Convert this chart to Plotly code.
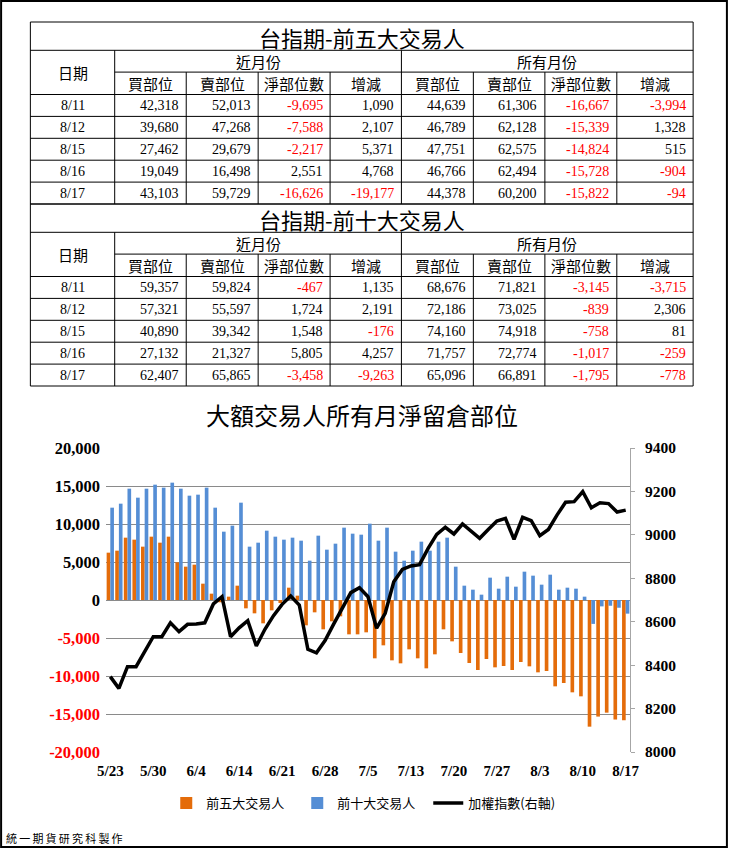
import plotly.graph_objects as go

# ---------------- chart data ----------------
dates = ['5/23','5/24','5/25','5/26','5/27','5/30','5/31','6/1','6/2','6/3','6/4','6/6','6/7','6/8',
         '6/13','6/14','6/15','6/16','6/17','6/20','6/21','6/22','6/23','6/24','6/27','6/28','6/29',
         '6/30','7/1','7/4','7/5','7/6','7/7','7/11','7/12','7/13','7/14','7/15','7/18','7/19','7/20',
         '7/21','7/22','7/25','7/26','7/27','7/28','7/29','8/1','8/2','8/3','8/4','8/5','8/8','8/9',
         '8/10','8/11','8/12','8/15','8/16','8/17']

top5 = [6228, 6491, 8202, 7939, 7018, 8333, 7544, 8333, 4956, 4386,
        4649, 2149, 833, -300, 439, 1886, -1096, -1754, -3070, -1360,
        -400, 1623, 570, -3333, -1623, -3860, -2807, -2149, -4518, -4518,
        -4254, -7675, -5965, -7939, -8333, -6491, -7675, -8991, -7149, -3860,
        -5439, -6974, -8289, -9211, -7763, -8860, -8684, -9211, -8158, -8728,
        -9518, -9342, -11360, -10921, -12149, -12675, -16667, -15339, -14824, -15728,
        -15822]

top10 = [12149, 12675, 14649, 13465, 14649, 15175, 14781, 15439, 14649, 13728,
         13860, 14781, 12149, 8991, 9781, 12807, 7018, 7544, 9123, 8333,
         7939, 8202, 7807, 5175, 8465, 6623, 7412, 9518, 8728, 8596,
         10044, 7807, 9518, 6360, 5175, 6491, 7675, 6491, 7675, 8202,
         4386, 1886, 1360, 702, 2939, 1491, 3070, 1754, 3728, 3202,
         2018, 3333, 1360, 1623, 1491, 439, -3145, -839, -758, -1017,
         -1795]

taiex = [8347, 8293, 8393, 8393, 8462, 8531, 8531, 8595, 8554, 8588,
         8590, 8595, 8682, 8715, 8531, 8572, 8605, 8488, 8565, 8628,
         8680, 8718, 8677, 8473, 8457, 8513, 8589, 8662, 8734, 8757,
         8715, 8570, 8639, 8784, 8841, 8857, 8863, 8938, 9002, 9035,
         9004, 9050, 9019, 8984, 9025, 9064, 9076, 8979, 9081, 9065,
         8996, 9025, 9091, 9150, 9153, 9199, 9125, 9148, 9144, 9105,
         9114]

x_ticks = ['5/23','5/30','6/4','6/14','6/21','6/28','7/5','7/13','7/20','7/27','8/3','8/10','8/17']
left_ticks = [20000, 15000, 10000, 5000, 0, -5000, -10000, -15000, -20000]
right_ticks = [8000, 8200, 8400, 8600, 8800, 9000, 9200, 9400]

series_names = ['前五大交易人', '前十大交易人', '加權指數(右軸)']
chart_title = '大額交易人所有月淨留倉部位'
footer = '統一期貨研究科製作'

# ---------------- table data ----------------
tbl_dates = ['8/11', '8/12', '8/15', '8/16', '8/17']
group_headers = ['近月份', '所有月份']
col_headers = ['買部位', '賣部位', '淨部位數', '增減']

t5_title = '台指期-前五大交易人'
t5_near_buy = [42318, 39680, 27462, 19049, 43103]
t5_near_sell = [52013, 47268, 29679, 16498, 59729]
t5_near_net = [-9695, -7588, -2217, 2551, -16626]
t5_near_chg = [1090, 2107, 5371, 4768, -19177]
t5_all_buy = [44639, 46789, 47751, 46766, 44378]
t5_all_sell = [61306, 62128, 62575, 62494, 60200]
t5_all_net = [-16667, -15339, -14824, -15728, -15822]
t5_all_chg = [-3994, 1328, 515, -904, -94]

t10_title = '台指期-前十大交易人'
t10_near_buy = [59357, 57321, 40890, 27132, 62407]
t10_near_sell = [59824, 55597, 39342, 21327, 65865]
t10_near_net = [-467, 1724, 1548, 5805, -3458]
t10_near_chg = [1135, 2191, -176, 4257, -9263]
t10_all_buy = [68676, 72186, 74160, 71757, 65096]
t10_all_sell = [71821, 73025, 74918, 72774, 66891]
t10_all_net = [-3145, -839, -758, -1017, -1795]
t10_all_chg = [-3715, 2306, 81, -259, -778]

# ---------------- styles / geometry ----------------
ORANGE = '#E46C0A'
BLUE = '#558ED5'
RED = '#FF0000'
CJK = 'Noto Sans CJK TC'
SERIF = 'Liberation Serif'
GRID = '#8a8a8a'

L, R, T, B = 106, 630.5, 448, 752
W, H = R - L, B - T


def px(xp):
    return (xp - L) / W


def py(yp):
    return (B - yp) / H


shapes = []
annots = []


def line(x0, y0, x1, y1, color='black', width=1):
    shapes.append(dict(type='line', xref='paper', yref='paper', x0=px(x0), y0=py(y0),
                       x1=px(x1), y1=py(y1), line=dict(color=color, width=width)))


def text(x, y, s, size, family, color='black', xanchor='center', weight='normal'):
    annots.append(dict(xref='paper', yref='paper', x=px(x), y=py(y), text=s, showarrow=False,
                       font=dict(size=size, family=family, color=color, weight=weight),
                       xanchor=xanchor, yanchor='middle'))


COLS = [30.3, 114.7, 186.3, 258.3, 330.3, 401.7, 473.7, 545.3, 617.3, 693.7]


def fmt(v):
    return f'{v:,}'


def draw_table(y0, title, cols_data):
    y_title = y0 + 28.3
    y_h1 = y_title + 21.8
    y_h2 = y_h1 + 22.4
    rows = [y_h2 + 21.9 * i for i in range(len(tbl_dates) + 1)]
    bottom = rows[-1]
    # horizontal lines
    line(COLS[0], y0, COLS[-1], y0)
    line(COLS[0], y_title, COLS[-1], y_title)
    line(COLS[1], y_h1, COLS[-1], y_h1)
    for r in rows:
        line(COLS[0], r, COLS[-1], r)
    # vertical lines
    line(COLS[0], y0, COLS[0], bottom)
    line(COLS[-1], y0, COLS[-1], bottom)
    line(COLS[1], y_title, COLS[1], bottom)
    line(COLS[5], y_title, COLS[5], bottom)
    for c in (2, 3, 4, 6, 7, 8):
        line(COLS[c], y_h1, COLS[c], bottom)
    # texts
    text((COLS[0] + COLS[-1]) / 2, (y0 + y_title) / 2 + 1, title, 22, CJK)
    text((COLS[0] + COLS[1]) / 2, (y_title + y_h2) / 2, '日期', 15, CJK)
    text((COLS[1] + COLS[5]) / 2, (y_title + y_h1) / 2, group_headers[0], 15, CJK)
    text((COLS[5] + COLS[9]) / 2, (y_title + y_h1) / 2, group_headers[1], 15, CJK)
    for k in range(8):
        text((COLS[k + 1] + COLS[k + 2]) / 2, (y_h1 + y_h2) / 2, col_headers[k % 4], 15, CJK)
    for i, d in enumerate(tbl_dates):
        ym = (rows[i] + rows[i + 1]) / 2
        text((COLS[0] + COLS[1]) / 2, ym, d, 14, SERIF)
        for k, arr in enumerate(cols_data):
            v = arr[i]
            text(COLS[k + 2] - 5.5, ym, fmt(v), 14, SERIF, RED if v < 0 else 'black', xanchor='right')
    return bottom


b1 = draw_table(22, t5_title, [t5_near_buy, t5_near_sell, t5_near_net, t5_near_chg,
                               t5_all_buy, t5_all_sell, t5_all_net, t5_all_chg])
draw_table(b1, t10_title, [t10_near_buy, t10_near_sell, t10_near_net, t10_near_chg,
                           t10_all_buy, t10_all_sell, t10_all_net, t10_all_chg])

# chart title and footer
text(362, 414, chart_title, 24, CJK)
annots.append(dict(xref='paper', yref='paper', x=px(4), y=py(838), text='\u2009'.join(footer),
                   showarrow=False, font=dict(size=11, family=CJK, color='black'),
                   xanchor='left', yanchor='middle'))

# outer border
shapes.append(dict(type='rect', xref='paper', yref='paper', x0=px(1), y0=py(1), x1=px(727.5), y1=py(847),
                   line=dict(color='black', width=2), fillcolor='rgba(0,0,0,0)', layer='above'))

# ---------------- figure ----------------
fig = go.Figure()
fig.add_trace(go.Bar(x=dates, y=top5, name=series_names[0], marker=dict(color=ORANGE, line=dict(width=0))))
fig.add_trace(go.Bar(x=dates, y=top10, name=series_names[1], marker=dict(color=BLUE, line=dict(width=0))))
fig.add_trace(go.Scatter(x=dates, y=taiex, name=series_names[2], yaxis='y2', mode='lines',
                         line=dict(color='black', width=3.5)))

left_text = [f'<span style="color:{RED}">{fmt(v)}</span>' if v < 0 else fmt(v) for v in left_ticks]

fig.update_layout(
    width=730, height=850,
    margin=dict(l=L, r=730 - R, t=T, b=850 - B, pad=0),
    paper_bgcolor='white', plot_bgcolor='white',
    barmode='group', bargap=0.15, bargroupgap=0.0,
    showlegend=True,
    legend=dict(orientation='h', x=px(363), xanchor='center', y=py(803), yanchor='middle',
                font=dict(family=CJK, size=13, color='black'), bgcolor='rgba(0,0,0,0)',
                itemwidth=30, tracegroupgap=0, entrywidth=86, entrywidthmode='pixels'),
    xaxis=dict(type='category', categoryorder='array', categoryarray=dates,
               tickmode='array', tickvals=x_ticks, ticktext=x_ticks, tickangle=0,
               showgrid=False, showline=False, zeroline=False, ticks='', ticklabelstandoff=8,
               tickfont=dict(family=SERIF, size=15, color='black', weight='bold')),
    yaxis=dict(range=[-20000, 20000], tickmode='array', tickvals=left_ticks, ticktext=left_text,
               showgrid=True, gridcolor=GRID, gridwidth=1, zeroline=False, showline=False, ticks='',
               ticklabelstandoff=5,
               tickfont=dict(family=SERIF, size=16.5, color='black', weight='bold')),
    yaxis2=dict(overlaying='y', side='right', range=[8000, 9400], tickmode='array',
                tickvals=right_ticks, ticktext=[str(v) for v in right_ticks],
                showgrid=False, zeroline=False, showline=True, linecolor='#a6a6a6', linewidth=1,
                ticks='outside', ticklen=4, tickcolor='#a6a6a6', ticklabelstandoff=7,
                tickfont=dict(family=SERIF, size=15.5, color='black', weight='bold')),
    shapes=shapes,
    annotations=annots,
    font=dict(family=CJK),
)

fig.write_html('out.html', config={'displayModeBar': False},
               post_script="document.body.style.margin='0';document.body.style.padding='0';")
